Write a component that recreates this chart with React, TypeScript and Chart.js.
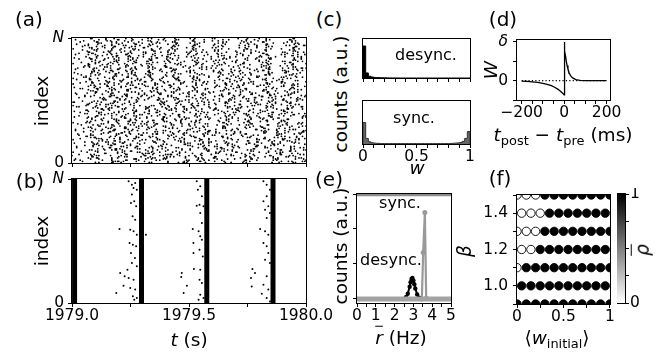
import React, { useEffect, useRef } from 'react';
import { Chart, registerables } from 'chart.js';
Chart.register(...registerables);

const FONT = "'DejaVu Sans', sans-serif";
const TICK = 15.5;
const N = 1000;

// ---------- (a) asynchronous raster: gaps between spikes per neuron row (base-36, units of 5 ms)
const RASTER_UNIT_MS = 5;
const rasterRows = [
  'k3b17o2e9412gh5a3m6c2b81qd', '9q2214b7ke3a1c8h5r6392gd1', '25j8c1af3n2764bk19e3p5a2g1', '3d7bj1185a2s4c96e1k2f7b3',
  'e71c5q4282gb3a1m96d4i2j17f', 'h1m52c8e33a9g1p4d7b26i1c', '0h42a9k1c3e856p2b7d1g3n5b2', '6a3r1e8b2215k9d4c7n1g3f2',
  's1a6f3214mb8c2k7e93a5h1d6c', '1c9h4d2a7b65q3e1j8a2m41d', '8c2n51e4b9r1a37g2d6c14j8e5', 'f2b6315ka9c7e2g4d3p18b2a',
  'm5a13f2b8h7c2942p1e6b3ka18', '4s1e7c3b92h6d1a5m2k83f1c', '4e8g2b1c63q9a2d5f17m3c2b6h', 'b75a1d3q9e2c4g6j1b38k2e1',
  'j2a51d8k3f1b2e94c7g13n6a2d', '2g4d81c6ar2b5e3h1a97c4m2', 'b6c2a4p18e3g52d9h1c7a3f1m4', 'n3a1f6b9d2c4e7k1h5b2p3a8',
  '1p4b7c3a2d8e16k5g29b1a3r2c', '7e22b5c1j9a4d8g3m61f2c5b', 'g31c9e2a5f7b1n4h2d83a6c2e9', 'c1k4a8b3e6d29f1h7q3a5c2g',
  '6a2k8d1m3b5c72e9a4g1p2f36b', '5b9d2a7c31e8h4g6a1s2b5d3', 'r4b16c3e8a2g93d5k1a7c2b6h2', 'a8e1c4m2b7d3916g5k2a9c1e',
  '3d9a1f5m2c6b81e4q3a7g2d5c1', '3h6a1b4c8r2d9e5f1a7b32k4', 'a7e2c1b9h34d6k2a8f1c5n3b72', 'e2d5b19a3c6k7g2h4a1n8c3b',
  'n1c5g3a82e7b4d1p6f2a93c8k1', '8a4c1f3b7e2d5j9a62g1c4m8', '5k2d8b3a1c96e2g4h1m7a3b5d2', '1b3g8d2a6e9c4k1h5p7a3b2f',
  'd3f7a1b5e2c94k8g1a6c3p2e71', 'k6c2a5e18b4d3g7a9f1c2q5b', 'h8b2c4n1a63d7f2e5a9c1k4g3b', 'd4a7b1c6e3h2i9a5b83c1k6e',
  '2c6m3a9e1d4b72g5f8a1q3c6d2', '6f1c9a2d5b7e4m3g8a1c6b2h', 'p3a8c2f5b1e97d4a2k6c1h3b5g', 'b2a83e5c1d7k4f6g2a9b3c5n',
  '7g2b4d9a1n5c3e82f6a1c4m7d3', '2c7j4a1b9e6d3h5a8c2g1r4b', 'c1e5k3b7a2d8f4g1a96c2p3b8e', 'p15c2i8a4472db1e3fk91c6a',
  'i4a2c7b1f8e3d5a92m6c4g1b3k', '42e9a1n3b6c18dg2a5h3j71b', '1b9d3g5a2c7e41n8f2a6c3h5d1', 'd1a52c7q3e9b46k1f2a8c3g5',
  'f6c2a8m3b1d5e92k4a7c1g3b6p', '11f8b3a6m2c9d4e17h2b5a3k', '9a3e1c7k5b2d4f8a61h3c9g2e5', 'r2c4a7b1e93g5d2k6a81c4f2',
  'q2d5b8a3c1f6e94a2n7b3k1c6g', '6i3b1c5a8d2e74n9a1b3g6c2', 'b5g1a4c9e3d2m7a8f1b5k2c6e3', 'b8f2a1d46c3k7e2a5h91c3b4',
  '4m7c2a5d1g8b3e6a91f4c2h7p3', '3a7e1m5c2b84d6g1j3a9c2f5', 'k1a9b3e5c2d7a4n8f1g63c2b5e', 'g2b5d1c73a9e4k2b6h1a8q3c',
  'e8c3a1p6b2d9g4a5f2k73c1m5b', '72c1a4e8b3f5d92g6a1m4c3b', '2h5a8c1e4b7d3f9a2n6g1c5k3d', 'e6a1b4h2c8d5k3a7f19b2c6g',
  'g3b6e2a9c1m5d8a4f3h72b1p6c', '1n4c7a3b2e6d9g15a8c2k4h3', '7a1d5c3k8e2b6a9g4f1c3n2e7b', 'c5d2a9b1f4e7a3j6c2g81k4b',
  'n6c2b4a8f1e3d7a5m9g2c1k4b6', '4b1k8c3a6e2d5h9a7b2c3m16', '1e7a3g5c9b2d4p1a8f6c3h2k5e', 'a2g7c1e5b94d3a8f6c1k2b5p',
  'c4k2a7b1e5f3d9a6g2n8c1m4b3', '8c3e6a1b2d7m4g9a5c13h2e6', '5b8d1a3c6m2e4g7a9f1k3b5c2p', '2f5a8b3c1e7d4k2a96g3b1c8',
  'h2a6c4e1b8d3k5a7g9f2n1c6b4', 'j4a1c6e9b2d3h8a5c71g2b4k', '3f9c1a5e7b2m4d8g6a1k3c5p2b', '5e2c8a3b6d1f9a4k7g2c5b13',
  'a5d2g8c3b1e6a4n9f7k2c1h5b3', 'b3a9d2c5e1h7g4a8m2c6k1b5', 'e1b4a7c9m3d5f2g8a6k1c4b2n7', '1d6b4a7c2e83g5a9f1k3c7b2',
  '8c3a6f1e4b9d2h5a7g3k1m6c2b', 'h7c2a5b1e4d9a6g3k8c2b4n1', 'k7b2a5c1e8d4g3f9a6n2c5b1h3', '6a1b8c4e2d5q7a3g9c1k6b2f',
  '2d6a9c4g1b7e3m5f8a2k6c1p4b', 'c9e3a2b7d1g4h6a5k2c8b3m1', 'm4c1a8e6b3d9f2g5a7k1n3c6b2', '3b6a4c1e8d2f7a9g5k1c3b6j',
  '6b1f5a3c8e2d7h4g9a1k5m3c2e', 'e1c5a8b2d6g3a4h9c7k2b5f3', 'd8a2c5k1b6e4g3f7a9n2c1h6b4', '9a2d7c4b1e5g8a3m6c1k4b2h',
  '1g5c8a2e7b4d3m6f1k9a5c2p3b', 'f2b7a4c1e9d6g3k5a8n1c4h7b2', '9c5a1e3b8d2f6g4m7a3k1c5n2b', 'b3e6a2c9k4d1g7f5a8h3c1m6b4',
  '4a8c6e1b3d7g2f9k5a1n4c8h2b', 'n2d5a7c3e1b8g4f6m9a2k3c7b1', '7e1c4a9b5d2h8g3f6a1k4m2c5n', 'a9b3c6e2d8f1g5k4a7m3c2n6b1',
  '3k6a1c8e4b2d9g5f7a3h1m8c4p', 'g1c7a5e3b9d4f2k8a6n1c3m5b7',
];

// ---------- (b) synchronized raster
const burstTimes = [1979.011, 1979.297, 1979.576, 1979.859];
const preSpikeT = [
  1979.242, 1979.256, 1979.27, 1979.263, 1979.277, 1979.256, 1979.266, 1979.252, 1979.274, 1979.259, 1979.27, 1979.249,
  1979.263, 1979.277, 1979.203, 1979.246, 1979.26, 1979.274, 1979.252, 1979.269, 1979.256, 1979.277, 1979.237, 1979.206,
  1979.225, 1979.242, 1979.263, 1979.22, 1979.249, 1979.27, 1979.189, 1979.26, 1979.266, 1979.277, 1979.316,
  1979.533, 1979.548, 1979.538, 1979.555, 1979.545, 1979.562, 1979.533, 1979.548, 1979.555, 1979.516, 1979.541, 1979.548,
  1979.519, 1979.555, 1979.545, 1979.519, 1979.559, 1979.521, 1979.548, 1979.469, 1979.467, 1979.545, 1979.491, 1979.555,
  1979.477, 1979.548, 1979.562, 1979.541,
  1979.818, 1979.832, 1979.846, 1979.832, 1979.818, 1979.839, 1979.825, 1979.846, 1979.832, 1979.804, 1979.825, 1979.839,
  1979.818, 1979.832, 1979.839, 1979.825, 1979.846, 1979.771, 1979.782, 1979.765, 1979.832, 1979.818, 1979.768, 1979.839,
  1979.811, 1979.832, 1979.846,
];
const preSpikeI = [
  981, 954, 968, 927, 914, 874, 820, 806, 780, 699, 672, 591, 578, 551, 597, 484, 470, 457, 403, 363, 323, 296, 269, 242,
  215, 202, 188, 140, 121, 108, 81, 54, 27, 40, 551,
  981, 941, 914, 860, 793, 780, 785, 726, 645, 597, 578, 538, 484, 511, 430, 403, 376, 274, 269, 242, 210, 188, 140, 161,
  81, 67, 40, 27,
  981, 954, 914, 860, 820, 780, 753, 726, 685, 597, 578, 551, 484, 457, 403, 349, 323, 274, 242, 202, 215, 148, 134, 108,
  75, 40, 13,
];

// ---------- (c) weight histograms (bins of 0.025)
const W_BIN = 0.025;
const wDesync = [
  0.82, 0.13, 0.045, 0.025, 0.015, 0.01, 0.008, 0.006, 0.004, 0.003, 0.002, 0.002, 0.001, 0.001, 0, 0, 0, 0, 0, 0,
  0, 0, 0, 0, 0, 0, 0, 0, 0, 0, 0, 0, 0, 0, 0, 0, 0, 0, 0, 0,
];
const wSync = [
  0.5, 0.13, 0.05, 0.03, 0.02, 0.015, 0.012, 0.01, 0.01, 0.01, 0.01, 0.01, 0.01, 0.01, 0.01, 0.01, 0.01, 0.01, 0.01, 0.01,
  0.01, 0.01, 0.01, 0.01, 0.01, 0.01, 0.01, 0.01, 0.01, 0.01, 0.01, 0.01, 0.012, 0.015, 0.02, 0.025, 0.035, 0.06, 0.13, 0.29,
];

// ---------- (d) STDP window
const stdpT = [-200, -175, -150, -125, -100, -80, -60, -45, -30, -20, -12, -6, -2, 0, 0, 2, 4, 7, 10, 14, 18, 23, 30, 40, 55, 75, 100, 150, 200];
const stdpW = [-0.013, -0.02, -0.03, -0.045, -0.068, -0.095, -0.13, -0.17, -0.22, -0.26, -0.3, -0.33, -0.355, -0.37, 1.0, 0.87, 0.77, 0.63, 0.51, 0.39, 0.3, 0.21, 0.13, 0.07, 0.025, 0.007, 0.002, 0, 0];

// ---------- (e) firing-rate distributions
const rDesync = [0, 2.5, 2.6, 2.7, 2.8, 2.85, 2.9, 2.95, 3.0, 3.05, 3.1, 3.2, 3.3, 3.4, 5];
const cDesync = [0, 0, 0.05, 0.15, 0.35, 0.48, 0.57, 0.6, 0.53, 0.42, 0.3, 0.13, 0.04, 0, 0];
const rSync = [0, 3.45, 3.52, 3.61, 3.68, 5];
const cSync = [0, 0, 1.33, 2.47, 0.02, 0];
const eTopLevel = 2.97;

// ---------- (f) order parameter map
const fBeta = [1.5, 1.4, 1.3, 1.2, 1.1, 1.0, 0.9];
const fWfull = [0, 0.1, 0.2, 0.3, 0.4, 0.5, 0.6, 0.7, 0.8, 0.9, 1.0];
const fWhalf = [0.05, 0.15, 0.25, 0.35, 0.45, 0.55, 0.65, 0.75, 0.85, 0.95];
const fRowW = [fWfull, fWhalf, fWfull, fWhalf, fWfull, fWhalf, fWfull];
const fRho = [
  [0, 0, 0, 1, 1, 1, 1, 1, 1, 1, 1],
  [0, 0, 0, 1, 1, 1, 1, 1, 1, 1],
  [0, 0, 0, 1, 1, 1, 1, 1, 1, 1, 1],
  [0, 0, 1, 1, 1, 1, 1, 1, 1, 1],
  [0, 1, 1, 1, 1, 1, 1, 1, 1, 1, 1],
  [1, 1, 1, 1, 1, 1, 1, 1, 1, 1],
  [1, 1, 1, 1, 1, 1, 1, 1, 1, 1, 1],
];

// ---------- tick lists
const tTicks = [1979, 1979.25, 1979.5, 1979.75, 1980];
const wTicks = [0, 0.1, 0.2, 0.3, 0.4, 0.5, 0.6, 0.7, 0.8, 0.9, 1.0];
const dtTicks = [-200, -150, -100, -50, 0, 50, 100, 150, 200];
const wdTicks = [-0.5, 0, 0.5, 1];
const rTicks = [0, 0.5, 1, 1.5, 2, 2.5, 3, 3.5, 4, 4.5, 5];
const cTicks = [0, 1, 2, 3];
const winTicks = [0, 0.25, 0.5, 0.75, 1];
const betaTicks = [0.9, 1.0, 1.1, 1.2, 1.3, 1.4, 1.5];
const cbTicks = [0, 0.25, 0.5, 0.75, 1];

type M = { l: number; t: number; r: number; b: number };

const lab = (pairs: [number, string][]) => (v: number) => {
  for (const [k, s] of pairs) if (Math.abs(v - k) < 1e-7) return s;
  return '';
};

function axis(horizontal: boolean, min: number, max: number, ticks: number[], label: (v: number) => string, size: number, pad: number, italicAt?: number): any {
  return {
    type: 'linear',
    min,
    max,
    position: horizontal ? 'bottom' : 'left',
    afterBuildTicks: (s: any) => {
      s.ticks = ticks.map((v) => ({ value: v }));
    },
    afterFit: (s: any) => {
      if (horizontal) s.height = size;
      else s.width = size;
      s.paddingLeft = 0;
      s.paddingRight = 0;
      s.paddingTop = 0;
      s.paddingBottom = 0;
    },
    grid: { drawOnChartArea: false, drawTicks: true, tickLength: 4, color: '#000', lineWidth: 1 },
    border: { display: false },
    ticks: {
      autoSkip: false,
      maxRotation: 0,
      minRotation: 0,
      padding: pad,
      color: '#000',
      font: (c: any) => ({
        family: FONT,
        size: TICK,
        style: italicAt !== undefined && c.tick && Math.abs(c.tick.value - italicAt) < 1e-9 ? 'italic' : 'normal',
      }),
      callback: (v: any) => label(Number(v)),
    },
  };
}

const framePlugin = {
  id: 'frame',
  afterDatasetsDraw(chart: any) {
    const { ctx, chartArea: a } = chart;
    ctx.save();
    ctx.strokeStyle = '#000';
    ctx.lineWidth = 1;
    ctx.strokeRect(Math.round(a.left) - 0.5, Math.round(a.top) - 0.5, Math.round(a.right - a.left) + 1, Math.round(a.bottom - a.top) + 1);
    ctx.restore();
  },
};

function baseOptions(m: M, x: any, y: any): any {
  return {
    responsive: false,
    animation: false,
    devicePixelRatio: 1,
    events: [],
    layout: { padding: { left: 0, top: m.t, right: m.r, bottom: 0 } },
    plugins: { legend: { display: false }, tooltip: { enabled: false } },
    scales: { x, y },
  };
}

function stepData(vals: number[]) {
  const pts: { x: number; y: number }[] = [{ x: 0, y: 0 }];
  vals.forEach((v, i) => pts.push({ x: i * W_BIN, y: v }));
  pts.push({ x: vals.length * W_BIN, y: vals[vals.length - 1] });
  pts.push({ x: vals.length * W_BIN, y: 0 });
  return pts;
}

type PanelDef = { key: string; area: [number, number, number, number]; m: M; make: () => any };

const panels: PanelDef[] = [
  {
    key: 'a',
    area: [72, 38, 306, 163],
    m: { l: 72, t: 10, r: 8, b: 6 },
    make: () => {
      const pts: { x: number; y: number }[] = [];
      rasterRows.forEach((row, r) => {
        let t = 0;
        for (const ch of row) {
          t += parseInt(ch, 36) * RASTER_UNIT_MS;
          if (t <= 1000) pts.push({ x: 1979 + t / 1000, y: ((r + 0.5) * N) / rasterRows.length });
        }
      });
      const m = { l: 72, t: 10, r: 8, b: 6 };
      return {
        type: 'scatter',
        data: { datasets: [{ data: pts, pointRadius: 0.9, pointBackgroundColor: '#000', pointBorderWidth: 0, clip: 0 }] },
        options: baseOptions(
          m,
          axis(true, 1979, 1980, tTicks, () => '', m.b, 0),
          axis(false, 0, N, [0, N], lab([[0, '0'], [N, 'N']]), m.l, 4, N),
        ),
        plugins: [framePlugin],
      };
    },
  },
  {
    key: 'b',
    area: [72, 179, 306, 303],
    m: { l: 72, t: 8, r: 30, b: 26 },
    make: () => {
      const m = { l: 72, t: 8, r: 30, b: 26 };
      const bursts = burstTimes.map((t) => ({
        data: [{ x: t, y: 0 }, { x: t, y: N }],
        showLine: true,
        borderColor: '#000',
        borderWidth: 5,
        pointRadius: 0,
        clip: 0,
      }));
      return {
        type: 'scatter',
        data: {
          datasets: [
            ...bursts,
            {
              data: preSpikeT.map((t, i) => ({ x: t, y: preSpikeI[i] })),
              pointRadius: 1,
              pointBackgroundColor: '#000',
              pointBorderWidth: 0,
              clip: 0,
            },
          ],
        },
        options: baseOptions(
          m,
          axis(true, 1979, 1980, tTicks, lab([[1979, '1979.0'], [1979.5, '1979.5'], [1980, '1980.0']]), m.b, 0),
          axis(false, 0, N, [0, N], lab([[0, '0'], [N, 'N']]), m.l, 4, N),
        ),
        plugins: [framePlugin],
      };
    },
  },
  {
    key: 'c1',
    area: [363, 39, 470, 78],
    m: { l: 6, t: 5, r: 8, b: 6 },
    make: () => {
      const m = { l: 6, t: 5, r: 8, b: 6 };
      return {
        type: 'scatter',
        data: {
          datasets: [
            { data: stepData(wDesync), showLine: true, stepped: 'before', fill: 'origin', backgroundColor: '#000', borderColor: '#000', borderWidth: 1, pointRadius: 0, clip: 0 },
          ],
        },
        options: baseOptions(m, axis(true, 0, 1, wTicks, () => '', m.b, 0), axis(false, 0, 1, [], () => '', m.l, 3)),
        plugins: [framePlugin],
      };
    },
  },
  {
    key: 'c2',
    area: [363, 101, 470, 144],
    m: { l: 6, t: 5, r: 14, b: 24 },
    make: () => {
      const m = { l: 6, t: 5, r: 14, b: 24 };
      return {
        type: 'scatter',
        data: {
          datasets: [
            { data: stepData(wSync), showLine: true, stepped: 'before', fill: 'origin', backgroundColor: '#666', borderColor: '#333', borderWidth: 1, pointRadius: 0, clip: 0 },
          ],
        },
        options: baseOptions(
          m,
          axis(true, 0, 1, wTicks, lab([[0, '0'], [0.5, '0.5'], [1, '1']]), m.b, 0),
          axis(false, 0, 1, [], () => '', m.l, 3),
        ),
        plugins: [framePlugin],
      };
    },
  },
  {
    key: 'd',
    area: [517, 40, 610, 100],
    m: { l: 26, t: 10, r: 24, b: 24 },
    make: () => {
      const m = { l: 26, t: 10, r: 24, b: 24 };
      return {
        type: 'scatter',
        data: {
          datasets: [
            { data: [{ x: -200, y: 0 }, { x: 200, y: 0 }], showLine: true, borderColor: '#000', borderWidth: 1.2, borderDash: [1.2, 2.2], pointRadius: 0, clip: 0 },
            { data: stdpT.map((t, i) => ({ x: t, y: stdpW[i] })), showLine: true, borderColor: '#000', borderWidth: 1.3, pointRadius: 0, clip: 0 },
          ],
        },
        options: baseOptions(
          m,
          axis(true, -222, 216, dtTicks, lab([[-200, '\u2212200'], [0, '0'], [200, '200']]), m.b, 0),
          axis(false, -0.5, 1.05, wdTicks, lab([[0, '0'], [1, '\u03b4']]), m.l, 5, 1),
        ),
        plugins: [framePlugin],
      };
    },
  },
  {
    key: 'e',
    area: [357, 194, 451, 303],
    m: { l: 6, t: 6, r: 10, b: 24 },
    make: () => {
      const m = { l: 6, t: 6, r: 10, b: 24 };
      return {
        type: 'scatter',
        data: {
          datasets: [
            { data: [{ x: 0, y: 0 }, { x: 5, y: 0 }], showLine: true, borderColor: '#a3a3a3', borderWidth: 5, pointRadius: 0, clip: 0 },
            { data: [{ x: 0, y: eTopLevel }, { x: 5, y: eTopLevel }], showLine: true, borderColor: '#8c8c8c', borderWidth: 2.5, pointRadius: 0, clip: 0 },
            {
              data: rDesync.map((r, i) => ({ x: r, y: cDesync[i] })),
              showLine: true,
              borderColor: '#000',
              borderWidth: 2,
              pointRadius: rDesync.map((_, i) => (i === 0 || i === rDesync.length - 1 ? 0 : 2.2)),
              pointBackgroundColor: '#000',
              pointBorderWidth: 0,
              clip: 0,
            },
            {
              data: rSync.map((r, i) => ({ x: r, y: cSync[i] })),
              showLine: true,
              borderColor: '#999',
              borderWidth: 2.2,
              pointRadius: rSync.map((_, i) => (i === 0 || i === rSync.length - 1 ? 0 : 2.5)),
              pointBackgroundColor: '#999',
              pointBorderWidth: 0,
              clip: 0,
            },
          ],
        },
        options: baseOptions(
          m,
          axis(true, 0, 5, rTicks, lab([[0, '0'], [1, '1'], [2, '2'], [3, '3'], [4, '4'], [5, '5']]), m.b, 0),
          axis(false, -0.115, 3.0, cTicks, () => '', m.l, 3),
        ),
        plugins: [framePlugin],
      };
    },
  },
  {
    key: 'f',
    area: [517, 195, 610, 304],
    m: { l: 42, t: 6, r: 5, b: 24 },
    make: () => {
      const m = { l: 42, t: 6, r: 5, b: 24 };
      const pts: { x: number; y: number }[] = [];
      const cols: string[] = [];
      fBeta.forEach((b, i) =>
        fRowW[i].forEach((w, j) => {
          pts.push({ x: w, y: b });
          const g = Math.round(255 * (1 - fRho[i][j]));
          cols.push(`rgb(${g},${g},${g})`);
        }),
      );
      return {
        type: 'scatter',
        data: { datasets: [{ data: pts, pointRadius: 4.2, pointBackgroundColor: cols, pointBorderColor: '#000', pointBorderWidth: 0.9, clip: 0 }] },
        options: baseOptions(
          m,
          axis(true, 0, 1, winTicks, lab([[0, '0'], [0.5, '0.5'], [1, '1']]), m.b, 0),
          axis(false, 0.9, 1.5, betaTicks, lab([[1.0, '1.0'], [1.2, '1.2'], [1.4, '1.4']]), m.l, 5),
        ),
        plugins: [framePlugin],
      };
    },
  },
  {
    key: 'cb',
    area: [617, 194, 625, 303],
    m: { l: 0, t: 6, r: 0, b: 6 },
    make: () => {
      const yAx = axis(false, 0, 1, cbTicks, lab([[0, '0'], [1, '1']]), 24, 1);
      yAx.position = 'right';
      return {
        type: 'bar',
        data: {
          labels: [''],
          datasets: [
            {
              data: [1],
              barPercentage: 1,
              categoryPercentage: 1,
              borderWidth: 0,
              backgroundColor: (c: any) => {
                const a = c.chart.chartArea;
                if (!a) return '#000';
                const g = c.chart.ctx.createLinearGradient(0, a.bottom, 0, a.top);
                g.addColorStop(0, '#ffffff');
                g.addColorStop(1, '#000000');
                return g;
              },
            },
          ],
        },
        options: {
          responsive: false,
          animation: false,
          devicePixelRatio: 1,
          events: [],
          layout: { padding: { left: 0, top: 6, right: 0, bottom: 6 } },
          plugins: { legend: { display: false }, tooltip: { enabled: false } },
          scales: { x: { type: 'category', display: false }, y: yAx },
        },
        plugins: [framePlugin],
      };
    },
  },
];

function ChartBox({ area, m, make }: PanelDef) {
  const ref = useRef<HTMLCanvasElement>(null);
  useEffect(() => {
    const chart = new Chart(ref.current as HTMLCanvasElement, make());
    return () => chart.destroy();
  }, []);
  const [L, T, R, B] = area;
  const isCb = m.l === 0 && m.r === 0;
  const w = R - L + m.l + m.r + (isCb ? 24 : 0);
  const h = B - T + m.t + m.b;
  return (
    <canvas
      ref={ref}
      width={w}
      height={h}
      style={{ position: 'absolute', left: L - m.l, top: T - m.t, width: w, height: h }}
    />
  );
}

function Txt({ x, y, size = 18.5, rot = false, children }: { x: number; y: number; size?: number; rot?: boolean; children: React.ReactNode }) {
  return (
    <div
      style={{
        position: 'absolute',
        left: x,
        top: y,
        transform: `translate(-50%, -50%)${rot ? ' rotate(-90deg)' : ''}`,
        fontFamily: FONT,
        fontSize: size,
        lineHeight: 1,
        whiteSpace: 'nowrap',
        color: '#000',
      }}
    >
      {children}
    </div>
  );
}

const sub: React.CSSProperties = { fontSize: '0.7em', verticalAlign: '-0.3em', fontStyle: 'normal' };

export default function App() {
  return (
    <div style={{ position: 'absolute', left: 0, top: 0, width: 663, height: 357, background: '#fff', overflow: 'hidden' }}>
      {panels.map((p) => (
        <ChartBox key={p.key} {...p} />
      ))}
      <Txt x={29} y={19} size={20}>(a)</Txt>
      <Txt x={30} y={181} size={20}>(b)</Txt>
      <Txt x={329} y={19} size={20}>(c)</Txt>
      <Txt x={503} y={19} size={20}>(d)</Txt>
      <Txt x={329} y={179} size={20}>(e)</Txt>
      <Txt x={500} y={178} size={20}>(f)</Txt>

      <Txt x={42} y={101} rot>index</Txt>
      <Txt x={42} y={241} rot>index</Txt>
      <Txt x={189} y={340}>
        <i>t</i> (s)
      </Txt>

      <Txt x={341} y={94} rot>counts (a.u.)</Txt>
      <Txt x={417} y={168}>
        <i>w</i>
      </Txt>
      <Txt x={426} y={55} size={16}>desync.</Txt>
      <Txt x={414} y={118} size={16}>sync.</Txt>

      <Txt x={491} y={70} rot>
        <i>W</i>
      </Txt>
      <Txt x={563} y={137}>
        <i>t</i>
        <span style={sub}>post</span> {'\u2212'} <i>t</i>
        <span style={sub}>pre</span> (ms)
      </Txt>

      <Txt x={341} y={246} rot>counts (a.u.)</Txt>
      <Txt x={400} y={203} size={16}>sync.</Txt>
      <Txt x={391} y={260} size={16}>desync.</Txt>
      <Txt x={401} y={338}>
        <i style={{ textDecoration: 'overline' }}>r</i> (Hz)
      </Txt>

      <Txt x={465} y={251} rot>
        <i>{'\u03b2'}</i>
      </Txt>
      <Txt x={557} y={340}>
        {'\u27e8'}
        <i>w</i>
        <span style={sub}>initial</span>
        {'\u27e9'}
      </Txt>
      <Txt x={643} y={250} rot>
        <i style={{ textDecoration: 'overline' }}>{'\u03c1'}</i>
      </Txt>
    </div>
  );
}
